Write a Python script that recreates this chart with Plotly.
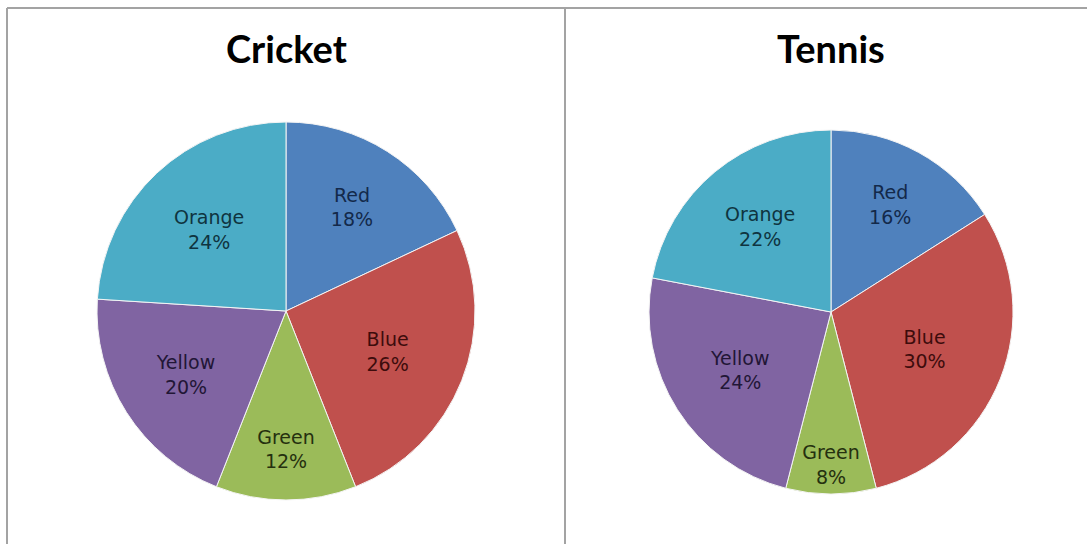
import plotly.graph_objects as go

categories = ["Red", "Blue", "Green", "Yellow", "Orange"]
cricket_values = [18, 26, 12, 20, 24]
tennis_values = [16, 30, 8, 24, 22]
titles = ["Cricket", "Tennis"]

slice_colors = ["#4F81BD", "#C0504D", "#9BBB59", "#8064A2", "#4BACC6"]
text_colors = ["#13294a", "#3d0c0c", "#25300f", "#221636", "#0f3440"]

W, H = 1087, 544

def pie(values, cx, cy, d):
    return go.Pie(
        labels=categories,
        values=values,
        sort=False,
        direction="clockwise",
        rotation=0,
        marker=dict(colors=slice_colors, line=dict(color="#f4f4f4", width=1)),
        texttemplate="%{label}<br>%{value}%",
        textposition="inside",
        insidetextorientation="horizontal",
        insidetextfont=dict(family="DejaVu Sans", size=19, color=text_colors),
        hoverinfo="label+value",
        showlegend=False,
        domain=dict(x=[(cx - d / 2) / W, (cx + d / 2) / W],
                    y=[1 - (cy + d / 2) / H, 1 - (cy - d / 2) / H]),
    )

fig = go.Figure()
fig.add_trace(pie(cricket_values, 286, 311, 378))
fig.add_trace(pie(tennis_values, 831, 312, 364))

for t, cx in zip(titles, [286, 831]):
    fig.add_annotation(text="<b>%s</b>" % t, x=cx / W, y=1 - 48 / H, xref="paper", yref="paper",
                       showarrow=False, font=dict(family="Lato", size=38, color="#000000"),
                       xanchor="center", yanchor="middle")

line_style = dict(color="#a3a3a3", width=2)
fig.add_shape(type="line", xref="paper", yref="paper", x0=7 / W, x1=1, y0=1 - 8 / H, y1=1 - 8 / H, line=line_style)
fig.add_shape(type="line", xref="paper", yref="paper", x0=7 / W, x1=7 / W, y0=0, y1=1 - 8 / H, line=line_style)
fig.add_shape(type="line", xref="paper", yref="paper", x0=565 / W, x1=565 / W, y0=0, y1=1 - 8 / H, line=line_style)

fig.update_layout(width=W, height=H, margin=dict(l=0, r=0, t=0, b=0),
                  paper_bgcolor="white", plot_bgcolor="white")

fig.write_html("out.html", config={"displayModeBar": False},
               post_script="document.body.style.margin='0';document.body.style.overflow='hidden';")
